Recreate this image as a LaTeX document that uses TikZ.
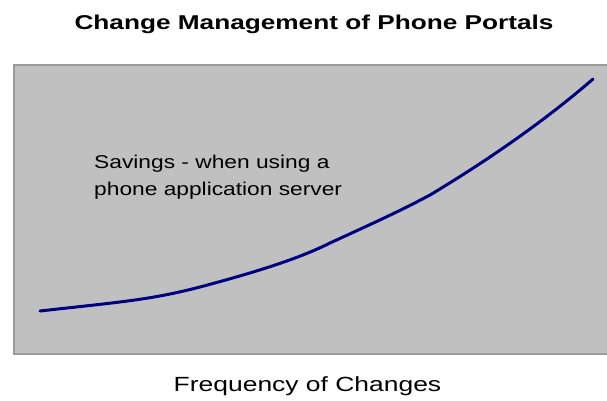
\documentclass[tikz,border=0pt]{standalone}
\usepackage{fontspec}
\setmainfont{Liberation Sans}
\definecolor{panelfill}{HTML}{C0C0C0}
\definecolor{paneledge}{HTML}{9A9A9A}
\definecolor{curvenavy}{HTML}{000080}
\newcommand{\widetext}[2]{\scalebox{#1}[1]{#2}}
\begin{document}
\begin{tikzpicture}[x=1pt,y=-1pt,
  panel/.style={fill=panelfill,draw=paneledge,line width=2.5pt},
  curve/.style={draw=curvenavy,line width=3pt,line cap=round,line join=round},
  lbl/.style={inner sep=0pt,font=\fontsize{18.5}{27}\selectfont}]
\useasboundingbox (0,0) rectangle (607,400);
% plotting area (runs past the right edge)
\fill[panelfill] (14,65) rectangle (612,354);
\draw[paneledge,line width=2.5pt] (620,65) -- (14,65) -- (14,354) -- (620,354);
% title and axis caption
\node[inner sep=0pt,font=\bfseries\fontsize{20}{24}\selectfont] (title) at (314,24)
  {\widetext{1.31}{Change Management of Phone Portals}};
\node[inner sep=0pt,font=\fontsize{20.5}{24}\selectfont] (xlabel) at (307.5,386)
  {\widetext{1.29}{Frequency of Changes}};
% savings curve
\coordinate (c0) at (40,311);
\coordinate (c5) at (593,79);
\draw[curve] (c0) .. controls (120,302) and (150,300) .. (200,287)
  .. controls (260,271) and (300,258) .. (330,243)
  .. controls (380,220) and (400,211) .. (430,195)
  .. controls (480,165) and (540,125) .. (c5);
\node[lbl,anchor=base west] (savings) at (94,168)
  {\widetext{1.23}{Savings - when using a}};
\node[lbl,anchor=base west] (savings2) at (94,195)
  {\widetext{1.23}{phone application server}};
\end{tikzpicture}
\end{document}
